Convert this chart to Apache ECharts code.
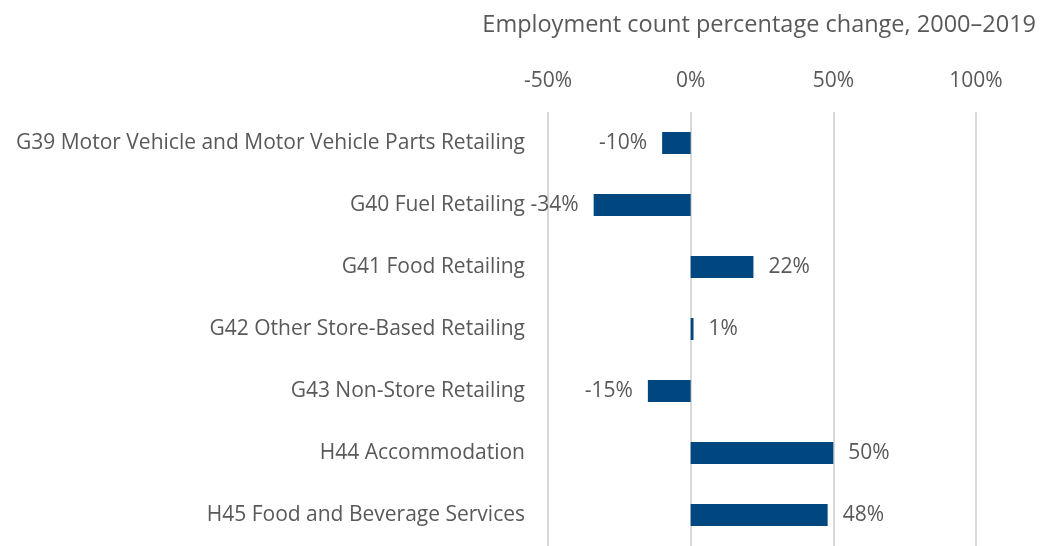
<!DOCTYPE html>
<html>
<head>
<meta charset="utf-8">
<script src="https://cdn.jsdelivr.net/npm/echarts@6/dist/echarts.min.js"></script>
<style>
  html, body { margin: 0; padding: 0; background: #fff; }
  #chart { width: 1047px; height: 546px; }
</style>
</head>
<body>
<div id="chart"></div>
<script>
// data, top to bottom
const categories = [
  'G39 Motor Vehicle and Motor Vehicle Parts Retailing',
  'G40 Fuel Retailing',
  'G41 Food Retailing',
  'G42 Other Store-Based Retailing',
  'G43 Non-Store Retailing',
  'H44 Accommodation',
  'H45 Food and Beverage Services'
]
const changes = [-10, -34, 22, 1, -15, 50, 48]
const axisTitle = 'Employment count percentage change, 2000\u20132019'

const textColor = '#595959'
const fontFamily = '"Open Sans", "Noto Sans", sans-serif'

const chart = echarts.init(document.getElementById('chart'))

chart.setOption({
  animation: false,
  textStyle: { fontFamily: fontFamily },
  grid: { left: 548, right: 71, top: 112, bottom: 0, containLabel: false },
  title: {
    text: axisTitle,
    right: 6,
    top: 8,
    textStyle: { color: textColor, fontSize: 23.5, fontWeight: 'normal', fontFamily: fontFamily }
  },
  xAxis: {
    type: 'value',
    position: 'top',
    min: -50,
    max: 100,
    interval: 50,
    axisLine: { show: false },
    axisTick: { show: false },
    axisLabel: {
      formatter: '{value}%',
      color: textColor,
      fontSize: 21,
      margin: 20
    },
    splitLine: { lineStyle: { color: '#d9d9d9', width: 2 } }
  },
  yAxis: {
    type: 'category',
    data: categories,
    inverse: true,
    axisLine: { show: false },
    axisTick: { show: false },
    axisLabel: { color: textColor, fontSize: 21, margin: 23 }
  },
  series: [{
    type: 'bar',
    barWidth: 22,
    itemStyle: { color: '#00467f' },
    data: changes.map(v => ({
      value: v,
      label: { position: v < 0 ? 'left' : 'right' }
    })),
    label: {
      show: true,
      distance: 15,
      color: textColor,
      fontSize: 21,
      formatter: p => p.value + '%'
    }
  }]
})
</script>
</body>
</html>
